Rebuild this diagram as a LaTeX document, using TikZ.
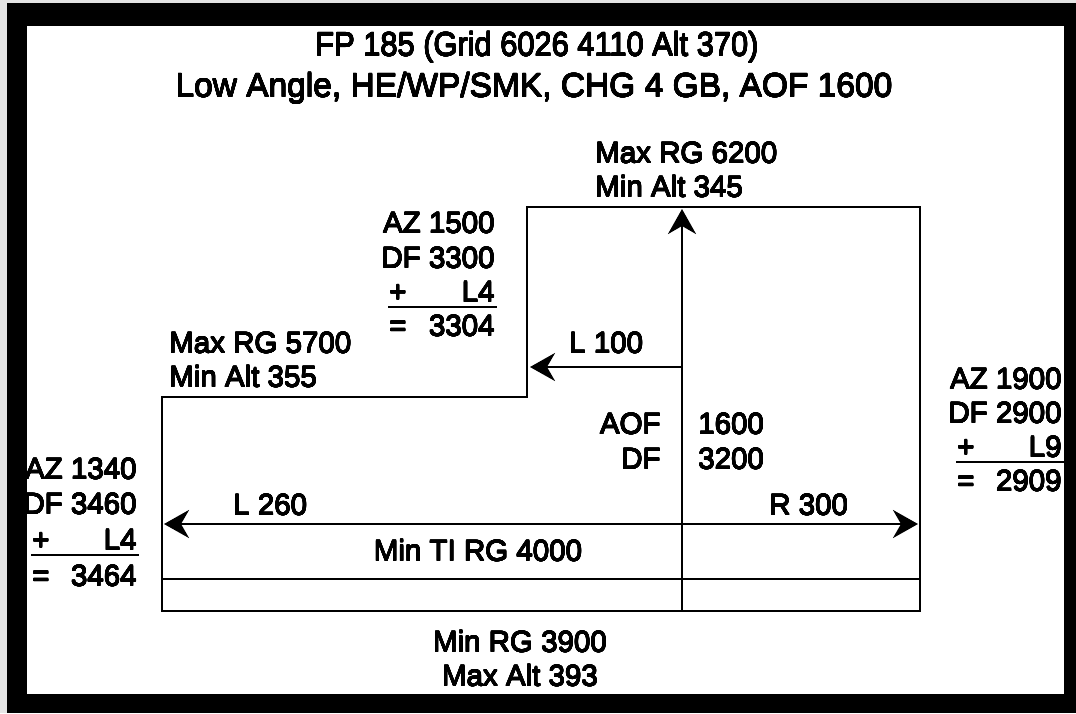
\documentclass[tikz,border=0pt]{standalone}
\usepackage{fontspec}
\usepackage{graphicx}
\usepackage[copies]{contour}
\contourlength{0.35pt}
\contournumber{16}
\setmainfont{Liberation Sans}
\newcommand{\hv}[1]{\contour{black}{#1}}
\usetikzlibrary{arrows.meta}
\begin{document}
\begin{tikzpicture}[x=1pt,y=-1pt,line width=2.7pt,
  txt/.style={font=\fontsize{29.5}{34}\selectfont,inner sep=0pt,anchor=base west},
  txtr/.style={txt,anchor=base east},
  ttl/.style={font=\fontsize{33.5}{38}\selectfont,inner sep=0pt,anchor=base},
  arr/.style={-{Stealth[length=25pt,width=28pt,inset=8pt]}},
  rule/.style={line width=2.5pt}]
\useasboundingbox (0,0) rectangle (1076,713);
% frame
\fill[black!10] (0,0) rectangle (1076,713);
\fill[black] (7,3) rectangle (1076,713);
\fill[white] (27,26) rectangle (1064,694);
% title
\node[ttl] (t1) at (537,56) {\scalebox{0.92}[1]{\hv{FP 185 (Grid 6026 4110 Alt 370)}}};
\node[ttl] (t2) at (534,97) {\hv{Low Angle, HE/WP/SMK, CHG 4 GB, AOF 1600}};
% outline
\coordinate (bl) at (162,611);
\coordinate (lt) at (162,397);
\coordinate (sb) at (527,397);
\coordinate (st) at (527,207);
\coordinate (tr) at (920,207);
\coordinate (br) at (920,611);
\draw[line join=miter] (bl) -- (lt) -- (sb) -- (st) -- (tr) -- (br) -- cycle;
\coordinate (il) at (162,579);
\coordinate (ir) at (920,579);
\draw (il) -- (ir);
% center lines and arrows
\coordinate (cb) at (682,611);
\coordinate (ctop) at (682,209);
\coordinate (c) at (682,524);
\coordinate (cm) at (682,367);
\coordinate (lend) at (530,367);
\coordinate (le) at (164,524);
\coordinate (re) at (918,524);
\draw[arr] (cb) -- (ctop);
\draw[arr] (cm) -- (lend);
\draw[arr] (c) -- (le);
\draw[arr] (c) -- (re);
% labels
\node[txt] (mx1) at (594,163) {\hv{Max RG 6200}};
\node[txt] (mn1) at (594,197) {\hv{Min Alt 345}};
\node[txt] (mx2) at (168,353) {\hv{Max RG 5700}};
\node[txt] (mn2) at (168,387) {\hv{Min Alt 355}};
\node[txt] (l100) at (568,353) {\hv{L 100}};
\node[txt] (l260) at (232,515) {\hv{L 260}};
\node[txt] (r300) at (768,515) {\hv{R 300}};
\node[txtr] (aof) at (662,434) {\hv{AOF}};
\node[txtr] (df) at (662,469) {\hv{DF}};
\node[txt] (aofv) at (697,434) {\hv{1600}};
\node[txt] (dfv) at (697,469) {\hv{3200}};
\node[txt,anchor=base] (ti) at (478,561) {\hv{Min TI RG 4000}};
\node[txt,anchor=base] (mr1) at (520,652) {\hv{Min RG 3900}};
\node[txt,anchor=base] (mr2) at (520,686) {\hv{Max Alt 393}};
% AZ 1500 block
\node[txtr] (a1) at (496,233) {\hv{AZ 1500}};
\node[txtr] (d1) at (496,268) {\hv{DF 3300}};
\node[txt] (p1) at (388,302) {\hv{+}};
\node[txtr] (p1v) at (496,302) {\hv{L4}};
\draw[rule] (388,307) -- (497,307);
\node[txt] (e1) at (388,336) {\hv{=}};
\node[txtr] (e1v) at (496,336) {\hv{3304}};
% AZ 1900 block
\node[txtr] (a2) at (1063,389) {\hv{AZ 1900}};
\node[txtr] (d2) at (1063,423) {\hv{DF 2900}};
\node[txt] (p2) at (956,457) {\hv{+}};
\node[txtr] (p2v) at (1063,457) {\hv{L9}};
\draw[rule] (956,462) -- (1064,462);
\node[txt] (e2) at (956,491) {\hv{=}};
\node[txtr] (e2v) at (1063,491) {\hv{2909}};
% AZ 1340 block
\node[txtr] (a3) at (138,479) {\hv{AZ 1340}};
\node[txtr] (d3) at (138,514) {\hv{DF 3460}};
\node[txt] (p3) at (31,550) {\hv{+}};
\node[txtr] (p3v) at (138,550) {\hv{L4}};
\draw[rule] (31,555) -- (139,555);
\node[txt] (e3) at (31,586) {\hv{=}};
\node[txtr] (e3v) at (138,586) {\hv{3464}};
\end{tikzpicture}
\end{document}
